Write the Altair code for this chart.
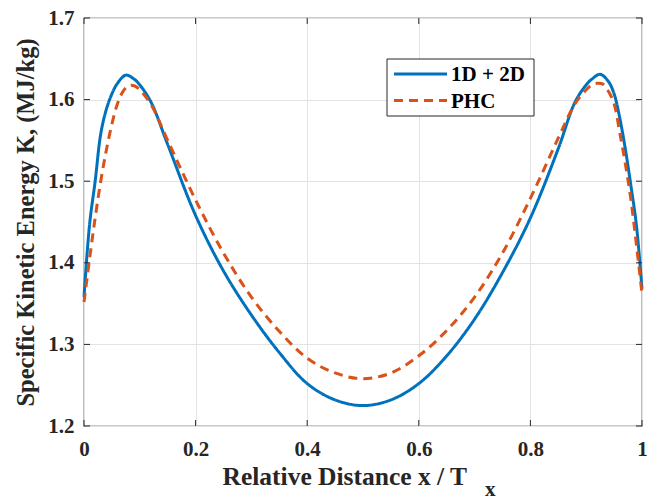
import altair as alt
import pandas as pd

# Specific kinetic energy along the relative distance, two models
x_1d2d = [0, 0.01, 0.02, 0.03, 0.04, 0.05, 0.06, 0.075, 0.09, 0.1, 0.12, 0.15,
          0.2, 0.25, 0.3, 0.35, 0.4, 0.45, 0.5, 0.55, 0.6, 0.65, 0.7, 0.75, 0.8,
          0.85, 0.88, 0.9, 0.91, 0.925, 0.94, 0.95, 0.96, 0.97, 0.98, 0.99, 1.0]
k_1d2d = [1.358, 1.447, 1.500, 1.558, 1.588, 1.607, 1.620, 1.630, 1.625, 1.618,
          1.597, 1.545, 1.458, 1.390, 1.336, 1.290, 1.252, 1.232, 1.225, 1.232,
          1.252, 1.286, 1.331, 1.388, 1.455, 1.540, 1.597, 1.618, 1.625, 1.631,
          1.622, 1.607, 1.578, 1.540, 1.495, 1.446, 1.368]

x_phc = [0, 0.01, 0.02, 0.03, 0.04, 0.05, 0.06, 0.07, 0.08, 0.09, 0.1, 0.12,
         0.15, 0.2, 0.25, 0.3, 0.35, 0.4, 0.45, 0.5, 0.55, 0.6, 0.65, 0.7, 0.75,
         0.8, 0.85, 0.88, 0.9, 0.91, 0.92, 0.93, 0.94, 0.95, 0.96, 0.97, 0.98,
         0.99, 1.0]
k_phc = [1.352, 1.405, 1.455, 1.500, 1.538, 1.570, 1.595, 1.610, 1.617, 1.617,
         1.612, 1.594, 1.550, 1.477, 1.412, 1.358, 1.316, 1.283, 1.265, 1.258,
         1.265, 1.286, 1.317, 1.358, 1.412, 1.479, 1.553, 1.595, 1.612, 1.618,
         1.620, 1.619, 1.610, 1.595, 1.560, 1.522, 1.478, 1.422, 1.362]

series_names = ["1D + 2D", "PHC"]
series_colors = ["#0072BD", "#D95319"]
series_dashes = [[1, 0], [9, 6]]

x_ticks = [0, 0.2, 0.4, 0.6, 0.8, 1.0]
y_ticks = [1.2, 1.3, 1.4, 1.5, 1.6, 1.7]

df = pd.concat([
    pd.DataFrame({"x": x_1d2d, "k": k_1d2d, "model": series_names[0]}),
    pd.DataFrame({"x": x_phc, "k": k_phc, "model": series_names[1]}),
])

W, H = 558, 408
FONT = "Liberation Serif"
INK = "#262626"

x_scale = alt.Scale(domain=[0, 1], nice=False)
y_scale = alt.Scale(domain=[1.2, 1.7], nice=False, zero=False)
color_scale = alt.Scale(domain=series_names, range=series_colors)
dash_scale = alt.Scale(domain=series_names, range=series_dashes)

axis_style = dict(labelFont=FONT, labelFontWeight="bold", labelFontSize=21,
                  labelColor=INK, titleFont=FONT, titleFontWeight="bold",
                  titleColor=INK, grid=True, gridColor="#e3e3e3", gridWidth=1,
                  domain=False, ticks=False)

curves = alt.Chart(df).mark_line(strokeWidth=3, interpolate="catmull-rom").encode(
    x=alt.X("x:Q", scale=x_scale,
            axis=alt.Axis(values=x_ticks, title="Relative Distance x / T",
                          labelExpr="format(datum.value, '~g')",
                          labelPadding=12, labelFlush=False,
                          titleFontSize=25.5, titleAlign="left",
                          titleBaseline="alphabetic", titleX=138, titleY=58,
                          **axis_style)),
    y=alt.Y("k:Q", scale=y_scale,
            axis=alt.Axis(values=y_ticks, format=".1f",
                          title="Specific Kinetic Energy K, (MJ/kg)",
                          titleFontSize=24.5, labelPadding=10, titlePadding=9,
                          **axis_style)),
    color=alt.Color("model:N", scale=color_scale, legend=None),
    strokeDash=alt.StrokeDash("model:N", scale=dash_scale, legend=None),
)

# Inward-pointing tick marks on all four sides of the box
yt = pd.DataFrame({"v": y_ticks})
xt = pd.DataFrame({"v": x_ticks})
tick_style = dict(color=INK, strokeWidth=1)
left_ticks = alt.Chart(yt).mark_rule(**tick_style).encode(
    y=alt.Y("v:Q", scale=y_scale), x=alt.value(0), x2=alt.value(6))
right_ticks = alt.Chart(yt).mark_rule(**tick_style).encode(
    y=alt.Y("v:Q", scale=y_scale), x=alt.value(W - 6), x2=alt.value(W))
bottom_ticks = alt.Chart(xt).mark_rule(**tick_style).encode(
    x=alt.X("v:Q", scale=x_scale), y=alt.value(H - 6), y2=alt.value(H))
top_ticks = alt.Chart(xt).mark_rule(**tick_style).encode(
    x=alt.X("v:Q", scale=x_scale), y=alt.value(0), y2=alt.value(6))

# Boxed legend in the upper right
LX, LY, ROW = 303, 41, 26.5
legend_layers = [
    alt.Chart(pd.DataFrame({"b": [0]})).mark_rect(
        fill="white", stroke=INK, strokeWidth=1).encode(
        x=alt.value(LX), x2=alt.value(LX + 147),
        y=alt.value(LY), y2=alt.value(LY + 57))
]
for i, (name, col, dash) in enumerate(zip(series_names, series_colors,
                                           series_dashes)):
    row_y = LY + 15 + i * ROW
    entry = pd.DataFrame({"model": [name]})
    legend_layers.append(
        alt.Chart(entry).mark_rule(strokeWidth=3, color=col,
                                   strokeDash=dash).encode(
            x=alt.value(LX + 7), x2=alt.value(LX + 60), y=alt.value(row_y)))
    legend_layers.append(
        alt.Chart(entry).mark_text(
            font=FONT, fontWeight="bold", fontSize=21, color="#000",
            align="left", baseline="middle", dy=1).encode(
            x=alt.value(LX + 64), y=alt.value(row_y), text="model:N"))

# Subscript of the x-axis title
subscript = alt.Chart(pd.DataFrame({"s": ["x"]})).mark_text(
    font=FONT, fontWeight="bold", fontSize=21, color=INK, align="left",
    baseline="alphabetic").encode(
    text="s:N", x=alt.value(401), y=alt.value(478))

chart = alt.layer(curves, left_ticks, right_ticks, bottom_ticks, top_ticks,
                  *legend_layers, subscript).properties(
    width=W, height=H,
    padding={"left": 84, "top": 18, "right": 15, "bottom": 76},
    autosize=alt.AutoSizeParams(type="none"),
).configure_view(
    stroke=INK, strokeWidth=1.2
)

chart.save("out.html", embed_options={"renderer": "svg", "actions": False})
